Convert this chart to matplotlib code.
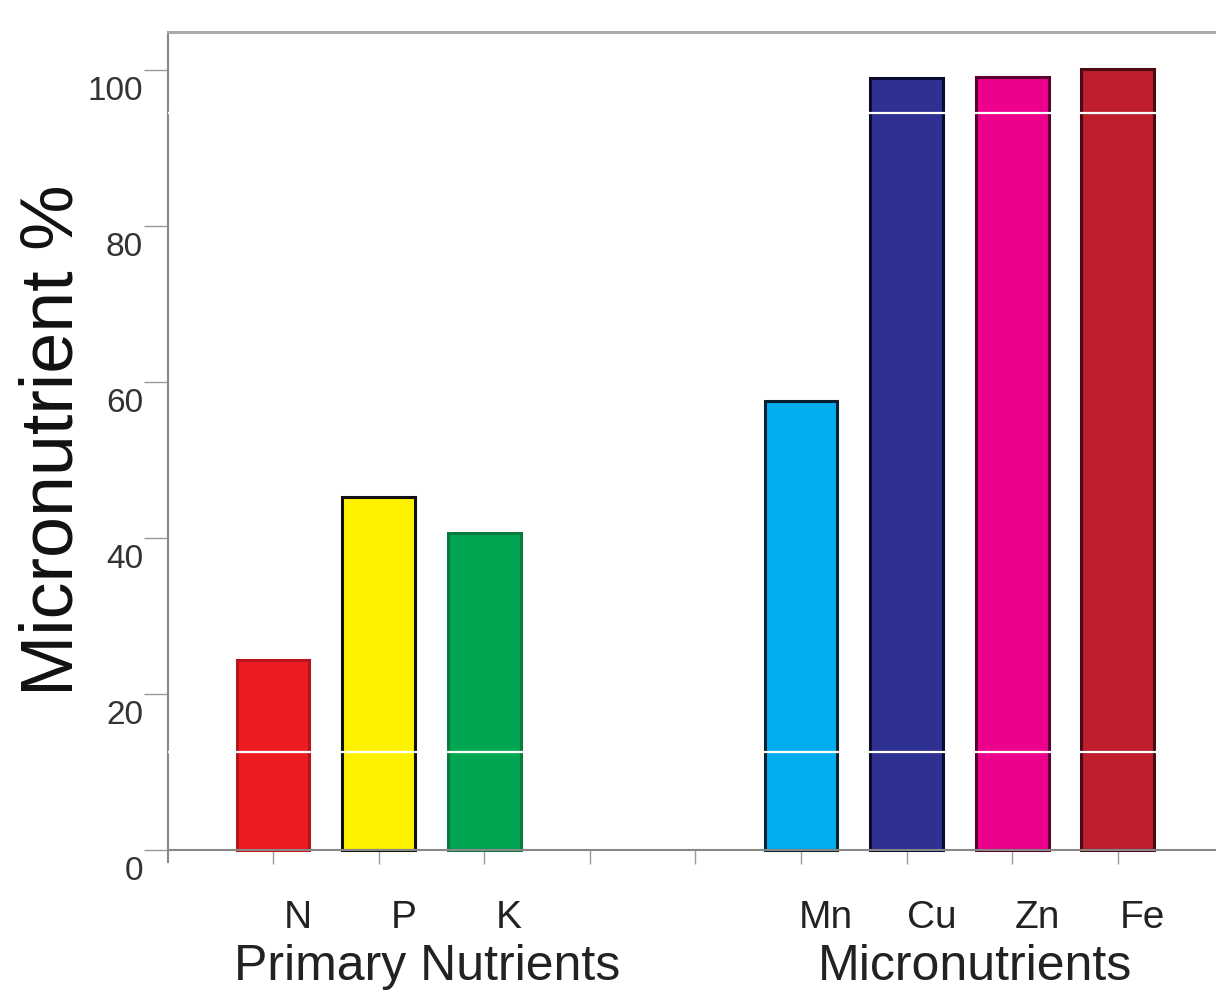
import matplotlib
matplotlib.use("Agg")
import matplotlib.pyplot as plt
from matplotlib.transforms import ScaledTranslation

# ---- data ----
categories = ["N", "P", "K", "", "", "Mn", "Cu", "Zn", "Fe"]
values = [24.4, 45.3, 40.6, 0, 0, 57.6, 99.0, 99.1, 100.1]
colors = ["#ED1C24", "#FFF200", "#00A651", "none", "none", "#00AEEF", "#2E3192", "#EC008C", "#BE1E2D"]
edges = ["#B8141B", "#111111", "#0B7A3E", "none", "none", "#0A2030", "#0A0A30", "#5A0030", "#4A0A10"]
ytick_vals = [0, 20, 40, 60, 80, 100]
group_labels = ["Primary Nutrients", "Micronutrients"]
group_centers = [2.46, 7.65]
white_lines = [12.6, 94.5]

plt.rcParams['font.family'] = ['Liberation Sans', 'DejaVu Sans']

W, H, DPI = 1216, 991, 100
fig = plt.figure(figsize=(W / DPI, H / DPI), dpi=DPI)
ax = fig.add_axes([168 / W, 1 - 862 / H, 1 - 168 / W, (862 - 32) / H])

pos = list(range(1, len(categories) + 1))
for p, v, c, e in zip(pos, values, colors, edges):
    if v > 0:
        ax.bar(p, v, width=0.69, color=c, edgecolor=e, linewidth=2.2, zorder=2)

ax.set_xlim(0.006, 9.93)
ax.set_ylim(-1.55, 104.9)

for y in white_lines:
    ax.axhline(y, color="white", lw=1.6, zorder=5)

# spines
ax.spines['right'].set_visible(False)
ax.spines['top'].set_color("#aaaaaa")
ax.spines['top'].set_linewidth(2.2)
ax.spines['left'].set_color("#888888")
ax.spines['left'].set_linewidth(1.5)
ax.spines['bottom'].set_position(('data', 0))
ax.spines['bottom'].set_color("#888888")
ax.spines['bottom'].set_linewidth(1.5)

# y ticks
ax.set_yticks(ytick_vals)
ax.set_yticklabels([str(v) for v in ytick_vals], fontsize=24, color="#333333")
ax.tick_params(axis='y', length=17, width=1.0, color="#999999", pad=1)
off_y = ScaledTranslation(0, -18 / DPI, fig.dpi_scale_trans)
for lab in ax.get_yticklabels():
    lab.set_transform(lab.get_transform() + off_y)

# x ticks
ax.set_xticks(pos)
ax.set_xticklabels(categories, fontsize=28, color="#222222")
ax.tick_params(axis='x', length=10, width=1.0, color="#999999", pad=26)
off_x = ScaledTranslation(25 / DPI, 0, fig.dpi_scale_trans)
for lab in ax.get_xticklabels():
    lab.set_transform(lab.get_transform() + off_x)

# group labels
for gx, gl in zip(group_centers, group_labels):
    xd = ax.transData.transform((gx, 0))[0]
    fig.text(xd / W, 1 - 967 / H, gl, ha="center", va="center", fontsize=36, color="#222222")

fig.text(53 / W, 1 - 440 / H, "Micronutrient %", rotation=90, ha="center", va="center",
         fontsize=53, color="#111111")

fig.savefig("out.png", dpi=DPI)
